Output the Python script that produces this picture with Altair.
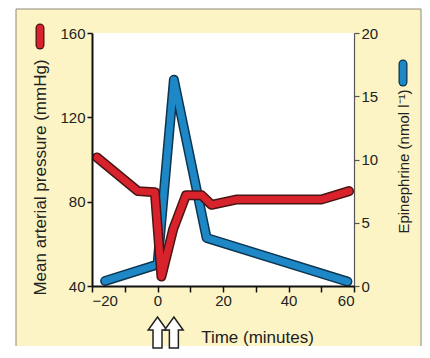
import altair as alt
import pandas as pd

# --- data ---
red_t = [-18.5, -6, -0.8, 1.2, 4.8, 8.7, 13.5, 16.5, 24, 50, 58.5]
red_map = [101, 85, 84.5, 44.5, 67, 83, 83, 78.5, 81, 81, 85]

blue_t = [-16, 0, 5, 15, 58]
blue_epi = [0.4, 1.7, 16.3, 3.8, 0.35]

arrow_t = [0, 5]

x_ticks = [-20, -10, 0, 10, 20, 30, 40, 50, 60]
left_ticks = [40, 80, 120, 160]
right_ticks = [0, 5, 10, 15, 20]

W, H = 262, 253
FONT = "Liberation Sans"
TXT = "#222222"
RED, RED_DK = "#d8232c", "#4a1515"
BLUE, BLUE_DK = "#1e87c5", "#0d3550"
YEL = "#fcf4c4"
BORDER = "#8a8a7a"

red_df = pd.DataFrame({"t": red_t, "map": red_map})
blue_df = pd.DataFrame({"t": blue_t, "epi": blue_epi})
arrow_df = pd.DataFrame({"t": arrow_t})
one = pd.DataFrame({"a": [0]})

X = alt.X(
    "t:Q",
    scale=alt.Scale(domain=[-20, 60], nice=False),
    axis=alt.Axis(
        values=x_ticks,
        labelExpr="datum.value % 20 === 0 ? datum.label : ''",
        title="Time (minutes)",
        titleX=165, titleY=51, titleAlign="center", titleBaseline="middle",
        titleFontSize=17, titleFontWeight="normal", titleFont=FONT, titleColor=TXT,
        labelFontSize=15, labelFont=FONT, labelColor=TXT, labelPadding=1,
        tickSize=6, tickWidth=1.5, tickColor="#111", domainColor="#111", domainWidth=2,
        grid=False, zindex=2,
    ),
)

L, R, T, B = -76, 329, -24, 313

bg = alt.Chart(one).mark_rect(fill=YEL).encode(
    x=alt.value(L), x2=alt.value(R), y=alt.value(T), y2=alt.value(B)
)
border_left = alt.Chart(one).mark_rule(color=BORDER, strokeWidth=1).encode(
    x=alt.value(L), y=alt.value(T), y2=alt.value(B)
)
border_right = alt.Chart(one).mark_rule(color=BORDER, strokeWidth=1).encode(
    x=alt.value(R), y=alt.value(T), y2=alt.value(B)
)
border_top = alt.Chart(one).mark_rule(color=BORDER, strokeWidth=1).encode(
    x=alt.value(L), x2=alt.value(R), y=alt.value(T)
)
plotbg = alt.Chart(one).mark_rect(fill="white").encode(
    x=alt.value(0), x2=alt.value(W), y=alt.value(0), y2=alt.value(H)
)

blue_scale = alt.Scale(domain=[0, 20], nice=False)
red_scale = alt.Scale(domain=[40, 160], nice=False)

blue_out = alt.Chart(blue_df).mark_line(
    color=BLUE_DK, strokeWidth=10, strokeCap="round", strokeJoin="round"
).encode(x=X, y=alt.Y("epi:Q", scale=blue_scale, axis=None))
blue_line = alt.Chart(blue_df).mark_line(
    color=BLUE, strokeWidth=7, strokeCap="round", strokeJoin="round"
).encode(
    x=X,
    y=alt.Y(
        "epi:Q", scale=blue_scale,
        axis=alt.Axis(
            orient="right", values=right_ticks, title="Epinephrine (nmol l⁻¹)",
            titleX=49, titleY=128, titleAngle=270, titleAlign="center", titleBaseline="middle",
            titleFontSize=15, titleFontWeight="normal", titleFont=FONT, titleColor=TXT,
            labelFontSize=15, labelFont=FONT, labelColor=TXT, labelPadding=2,
            tickSize=5, tickWidth=1.2, tickColor="#555", domainColor="#555", domainWidth=1.2,
            grid=False, zindex=1,
        ),
    ),
)

red_out = alt.Chart(red_df).mark_line(
    color=RED_DK, strokeWidth=10, strokeCap="round", strokeJoin="round"
).encode(x=X, y=alt.Y("map:Q", scale=red_scale, axis=None))
red_line = alt.Chart(red_df).mark_line(
    color=RED, strokeWidth=7, strokeCap="round", strokeJoin="round"
).encode(
    x=X,
    y=alt.Y(
        "map:Q", scale=red_scale,
        axis=alt.Axis(
            orient="left", values=left_ticks, title="Mean arterial pressure (mmHg)",
            titleX=-52, titleY=144, titleAngle=270, titleAlign="center", titleBaseline="middle",
            titleFontSize=17, titleFontWeight="normal", titleFont=FONT, titleColor=TXT,
            labelFontSize=15, labelFont=FONT, labelColor=TXT, labelPadding=2,
            tickSize=5, tickWidth=1.5, tickColor="#111", domainColor="#111", domainWidth=2,
            grid=False, zindex=2,
        ),
    ),
)

arrow_path = "M0,-1 L0.6,-0.16 L0.29,-0.16 L0.29,1 L-0.29,1 L-0.29,-0.16 L-0.6,-0.16 Z"
arrows = alt.Chart(arrow_df).mark_point(
    shape=arrow_path, filled=True, fill="white", stroke="#222", strokeWidth=1.5,
    size=961, opacity=1,
).encode(x=X, y=alt.value(299.5))

def legend_bar(xv, y1, y2, col, dk):
    o = alt.Chart(one).mark_rule(color=dk, strokeWidth=9, strokeCap="round").encode(
        x=alt.value(xv), y=alt.value(y1), y2=alt.value(y2)
    )
    i = alt.Chart(one).mark_rule(color=col, strokeWidth=6.5, strokeCap="round").encode(
        x=alt.value(xv), y=alt.value(y1), y2=alt.value(y2)
    )
    return [o, i]

leg = legend_bar(-52, -5, 12, RED, RED_DK) + legend_bar(311, 31, 49, BLUE, BLUE_DK)

chart = alt.layer(
    bg, border_left, border_right, border_top, plotbg,
    blue_out, blue_line, red_out, red_line, arrows, *leg
).resolve_scale(y="independent").properties(
    width=W, height=H, background="white",
    padding={"left": 7, "top": 0, "right": 0, "bottom": 0},
).configure_view(stroke=None)

chart.save("out.html", embed_options={"renderer": "svg", "actions": False})
